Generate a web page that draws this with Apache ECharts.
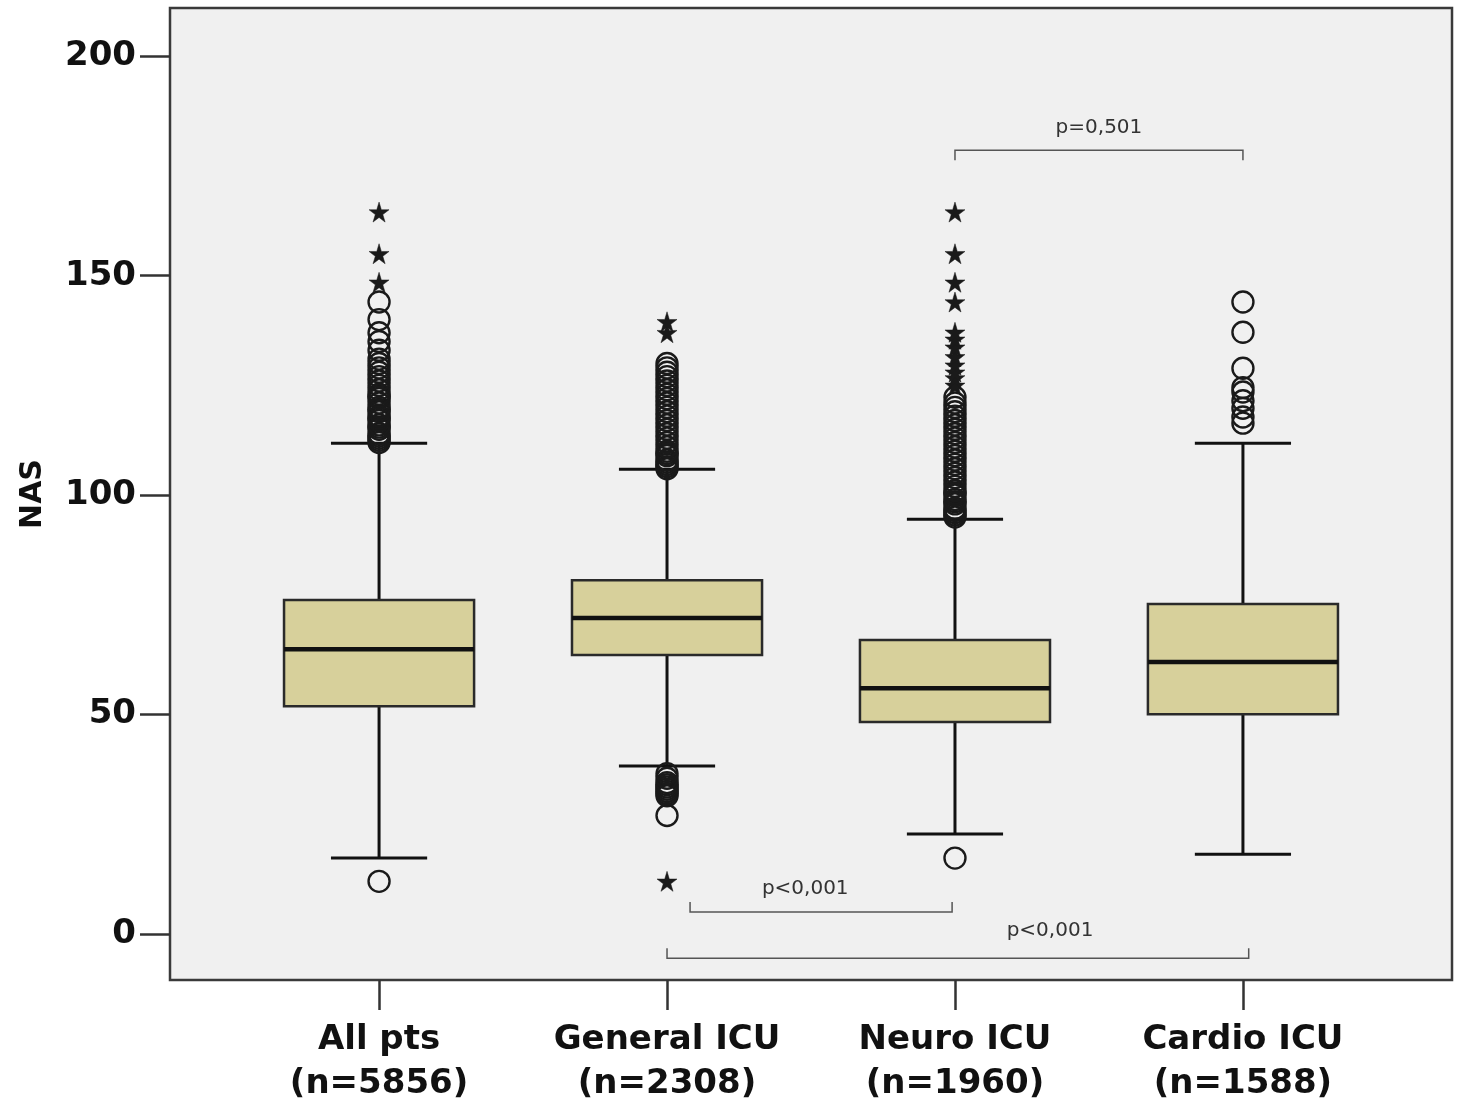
<!DOCTYPE html>
<html>
<head>
<meta charset="utf-8">
<script src="https://cdn.jsdelivr.net/npm/echarts@6/dist/echarts.min.js"></script>
<style>
  html, body { margin: 0; padding: 0; background: #fff; }
  #chart { width: 1458px; height: 1103px; }
</style>
</head>
<body>
<div id="chart"></div>
<script>
// groups on the x axis
const groups = ['All pts', 'General ICU', 'Neuro ICU', 'Cardio ICU'];
const groupN = ['n=5856', 'n=2308', 'n=1960', 'n=1588'];

// box statistics (NAS)
const whiskerLow = [17.3, 38.3, 22.8, 18.2];
const q1 = [51.9, 63.6, 48.3, 50.1];
const median = [64.9, 72.0, 56.0, 62.0];
const q3 = [76.1, 80.6, 67.0, 75.2];
const whiskerHigh = [111.8, 105.9, 94.5, 111.8];

// outliers (circles) and extreme values (stars)
const outliersAll = [12, 112, 112.5, 113, 113.5, 114, 115, 115.5, 116, 117, 117.5, 118, 119, 119.5, 120, 121, 122, 122.5, 123, 124, 125, 126, 127, 128, 129, 130, 131, 133, 135, 137, 140, 144];
const extremesAll = [148.5, 155, 164.5];
const outliersGeneral = [27, 31.5, 32, 32.5, 33, 33.5, 34, 34.5, 35.5, 36.5, 106, 106.5, 107, 107.5, 108, 109, 109.5, 110, 111, 112, 113, 114, 115, 116, 117, 118, 119, 120, 121, 122, 123, 124, 125, 126, 127, 128, 129, 130];
const extremesGeneral = [12, 137, 139.5];
const outliersNeuro = [17.3, 95, 95.5, 96, 96.5, 97, 98, 98.5, 99, 100, 100.5, 101, 102, 103, 104, 105, 106, 107, 108, 109, 110, 111, 112, 113, 114, 115, 116, 117, 118, 119, 120, 121, 122.3];
const extremesNeuro = [125, 126.7, 128, 129.6, 131.5, 133.7, 135.5, 137.1, 144, 148.5, 155, 164.5];
const outliersCardio = [116.4, 117.8, 119.8, 121.5, 123.5, 124.5, 128.9, 137.1, 144];
const extremesCardio = [];

// significance brackets
const bracketFrom = [3, 2.08, 2];
const bracketTo = [4, 2.99, 4.02];
const bracketLevel = [178.6, 5, -5.5];
const bracketDir = [1, -1, -1];
const bracketText = ['p=0,501', 'p<0,001', 'p<0,001'];
const bracketTextX = [3.5, 2.48, 3.33];
const bracketTextY = [183.8, 10.2, 0.8];

const outliers = [outliersAll, outliersGeneral, outliersNeuro, outliersCardio];
const extremes = [extremesAll, extremesGeneral, extremesNeuro, extremesCardio];

const boxData = groups.map((g, i) => [i + 1, whiskerLow[i], q1[i], median[i], q3[i], whiskerHigh[i]]);
const circleData = [];
const starData = [];
outliers.forEach((arr, i) => arr.forEach(v => circleData.push([i + 1, v])));
extremes.forEach((arr, i) => arr.forEach(v => starData.push([i + 1, v])));
const bracketData = bracketText.map((t, i) =>
  [bracketFrom[i], bracketTo[i], bracketLevel[i], bracketDir[i], bracketTextX[i], bracketTextY[i], t]);

const starPath = 'path://M50,0 L61,35 L98,35 L68,57 L79,91 L50,70 L21,91 L32,57 L2,35 L39,35 Z';
const font = 'DejaVu Sans';

const chart = echarts.init(document.getElementById('chart'));

chart.setOption({
  animation: false,
  backgroundColor: '#ffffff',
  grid: {
    left: 170, right: 6, top: 8, bottom: 123,
    outerBoundsMode: 'none',
    show: true,
    backgroundColor: '#f0f0f0',
    borderColor: '#3a3a3a',
    borderWidth: 2.5
  },
  xAxis: {
    type: 'value',
    min: 0.274,
    max: 4.726,
    axisLine: { show: false, onZero: false },
    splitLine: { show: false },
    axisTick: {
      show: true, inside: false, length: 30,
      customValues: [1, 2, 3, 4],
      lineStyle: { color: '#333', width: 2.5 }
    },
    axisLabel: {
      customValues: [1, 2, 3, 4],
      margin: 38,
      fontFamily: font,
      fontWeight: 'bold',
      fontSize: 34,
      lineHeight: 44,
      color: '#111',
      formatter: v => groups[v - 1] + '\n(' + groupN[v - 1] + ')'
    }
  },
  yAxis: {
    type: 'value',
    min: -10.48,
    max: 211,
    name: 'NAS',
    nameLocation: 'middle',
    nameGap: 122,
    nameTextStyle: { fontFamily: font, fontWeight: 'bold', fontSize: 30, color: '#111' },
    axisLine: { show: false, onZero: false },
    splitLine: { show: false },
    axisTick: {
      show: true, inside: false, length: 30,
      customValues: [0, 50, 100, 150, 200],
      lineStyle: { color: '#333', width: 2.5 }
    },
    axisLabel: {
      customValues: [0, 50, 100, 150, 200],
      margin: 34,
      fontFamily: font,
      fontWeight: 'bold',
      fontSize: 34,
      color: '#111'
    }
  },
  series: [
    {
      type: 'custom',
      name: 'box',
      data: boxData,
      encode: { x: 0, y: [1, 2, 3, 4, 5] },
      renderItem: function (params, api) {
        const x = api.value(0);
        const unit = api.size([1, 0])[0];
        const hb = unit * 0.33;
        const hc = unit * 0.167;
        const pLow = api.coord([x, api.value(1)]);
        const pQ1 = api.coord([x, api.value(2)]);
        const pMed = api.coord([x, api.value(3)]);
        const pQ3 = api.coord([x, api.value(4)]);
        const pHigh = api.coord([x, api.value(5)]);
        const cx = pLow[0];
        const line = { stroke: '#111', lineWidth: 3 };
        return {
          type: 'group',
          children: [
            { type: 'line', shape: { x1: cx, y1: pQ1[1], x2: cx, y2: pLow[1] }, style: line },
            { type: 'line', shape: { x1: cx, y1: pQ3[1], x2: cx, y2: pHigh[1] }, style: line },
            { type: 'line', shape: { x1: cx - hc, y1: pLow[1], x2: cx + hc, y2: pLow[1] }, style: line },
            { type: 'line', shape: { x1: cx - hc, y1: pHigh[1], x2: cx + hc, y2: pHigh[1] }, style: line },
            {
              type: 'rect',
              shape: { x: cx - hb, y: pQ3[1], width: hb * 2, height: pQ1[1] - pQ3[1] },
              style: { fill: '#d7d09b', stroke: '#2a2a2a', lineWidth: 2.5 }
            },
            { type: 'line', shape: { x1: cx - hb, y1: pMed[1], x2: cx + hb, y2: pMed[1] }, style: { stroke: '#111', lineWidth: 4.5 } }
          ]
        };
      },
      z: 2
    },
    {
      type: 'scatter',
      name: 'outliers',
      data: circleData,
      symbol: 'circle',
      symbolSize: 21,
      itemStyle: { color: 'rgba(0,0,0,0)', borderColor: '#1a1a1a', borderWidth: 2.4, opacity: 1 },
      z: 3
    },
    {
      type: 'scatter',
      name: 'extremes',
      data: starData,
      symbol: starPath,
      symbolSize: 20,
      itemStyle: { color: '#1a1a1a', borderColor: '#1a1a1a', borderWidth: 0.5, opacity: 1 },
      z: 4
    },
    {
      type: 'custom',
      name: 'brackets',
      data: bracketData,
      encode: { x: [0, 1, 4], y: [2, 5] },
      renderItem: function (params, api) {
        const a = api.coord([api.value(0), api.value(2)]);
        const b = api.coord([api.value(1), api.value(2)]);
        const dir = api.value(3);
        const t = api.coord([api.value(4), api.value(5)]);
        const tick = 10 * dir;
        return {
          type: 'group',
          children: [
            {
              type: 'polyline',
              shape: { points: [[a[0], a[1] + tick], [a[0], a[1]], [b[0], b[1]], [b[0], b[1] + tick]] },
              style: { stroke: '#555', lineWidth: 1.5, fill: null }
            },
            {
              type: 'text',
              x: t[0], y: t[1],
              style: {
                text: api.value(6),
                fontFamily: font,
                fontSize: 20,
                fill: '#333',
                align: 'center',
                verticalAlign: 'middle'
              }
            }
          ]
        };
      },
      z: 5
    }
  ]
});
</script>
</body>
</html>
